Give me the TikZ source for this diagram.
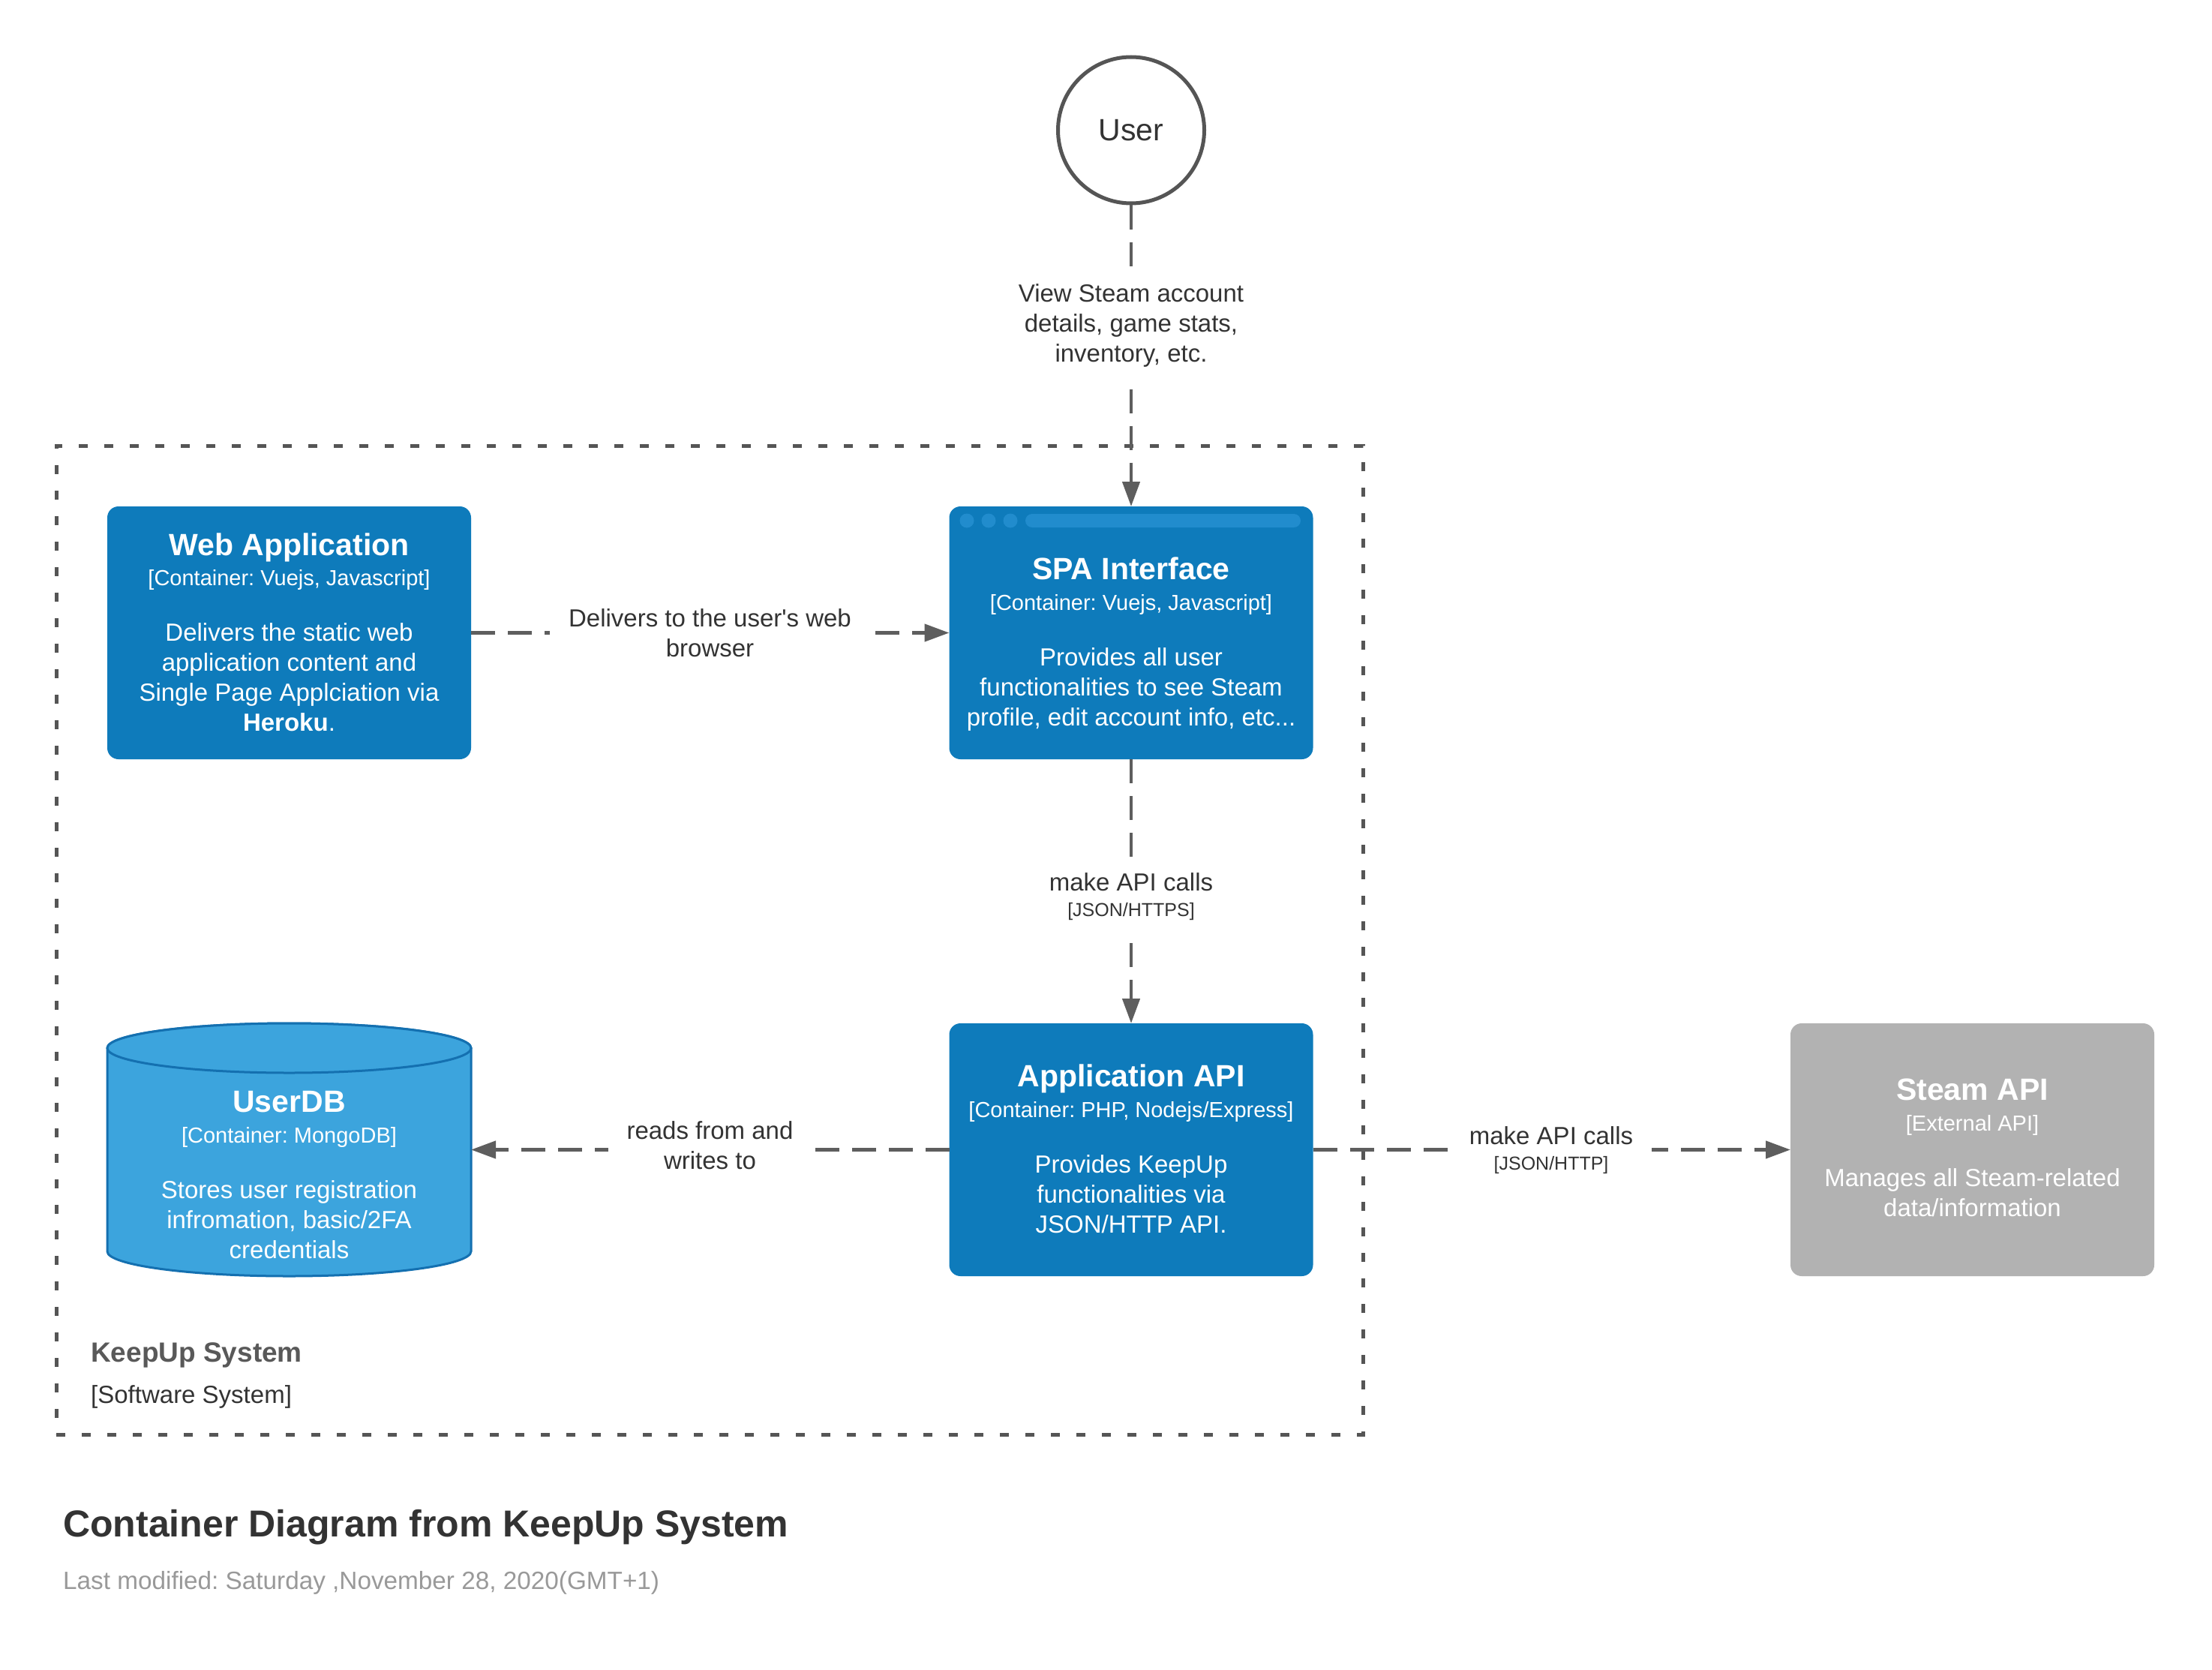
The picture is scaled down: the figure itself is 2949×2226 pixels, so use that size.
\documentclass[tikz,border=0pt]{standalone}
\usepackage{fontspec}
\setmainfont{Liberation Sans}
\usetikzlibrary{arrows.meta}
\frenchspacing
\definecolor{cblue}{RGB}{14,123,187}
\definecolor{hblue}{RGB}{33,140,205}
\definecolor{dbfill}{RGB}{60,164,221}
\definecolor{dbline}{RGB}{20,112,176}
\definecolor{extgray}{RGB}{178,178,178}
\definecolor{lineg}{RGB}{94,94,94}
\definecolor{bordg}{RGB}{85,85,85}
\definecolor{txtdark}{RGB}{51,51,51}
\definecolor{txtgray}{RGB}{153,153,153}
\definecolor{sysgray}{RGB}{89,89,89}
\begin{document}
\frenchspacing
\begin{tikzpicture}[x=1pt,y=-1pt,
  box/.style={rectangle, rounded corners=15pt, minimum width=485pt, minimum height=337pt, inner sep=0pt, outer sep=0pt},
  container/.style={box, fill=cblue},
  external/.style={box, fill=extgray},
  ghost/.style={rectangle, minimum width=485pt, minimum height=337pt, inner sep=0pt, outer sep=0pt},
  ttl/.style={anchor=base, inner sep=0pt, text=white, font=\bfseries\fontsize{41}{49}\selectfont},
  tech/.style={anchor=base, inner sep=0pt, text=white, font=\fontsize{29}{35}\selectfont},
  desc/.style={anchor=north, inner sep=0pt, text=white, align=center, font=\fontsize{33}{40}\selectfont},
  conn/.style={draw=lineg, line width=4.5pt, dash pattern=on 32pt off 17pt, -{Triangle[length=33pt,width=23pt]}},
  elabel/.style={anchor=north, fill=white, inner xsep=25pt, inner ysep=14pt, text=txtdark, align=center, font=\fontsize{33}{40}\selectfont},
  plain/.style={anchor=base west, inner sep=0pt},
]
% canvas
\fill[white] (0,0) rectangle (2949,2226);
\useasboundingbox (0,0) rectangle (2949,2226);

% system boundary
\node[draw=bordg, line width=5pt, dash pattern=on 12pt off 22pt, minimum width=1742pt, minimum height=1318pt, inner sep=0pt, outer sep=0pt] (sys) at (946,1253) {};

% user
\node[circle, draw=bordg, line width=5pt, minimum size=195pt, inner sep=0pt, font=\fontsize{41}{49}\selectfont, text=txtdark] (user) at (1508,173.5) {User};

% boxes
\node[container] (web) at (385.5,843.5) {};
\node[container] (spa) at (1508,843.5) {};
\node[container] (api) at (1508,1532.5) {};
\node[external] (steam) at (2629.5,1532.5) {};
\node[ghost] (db) at (385.5,1532.5) {};

% SPA browser header
\fill[hblue] (1289,694) circle[radius=9.5pt];
\fill[hblue] (1318,694) circle[radius=9.5pt];
\fill[hblue] (1347,694) circle[radius=9.5pt];
\fill[hblue, rounded corners=9pt] (1367,685) rectangle (1734,703);

% database cylinder
\path[fill=dbfill, draw=dbline, line width=3pt] (143,1397) -- (143,1668)
  arc[start angle=180, end angle=360, x radius=242.5pt, y radius=33pt]
  -- (628,1397)
  arc[start angle=0, end angle=180, x radius=242.5pt, y radius=33pt] -- cycle;
\draw[fill=dbfill, draw=dbline, line width=3pt] (385.5,1397) ellipse[x radius=242.5pt, y radius=33pt];

% box texts
\node[ttl] (webT) at (385.5,740) {Web Application};
\node[tech] (webK) at (385.5,780.4) {[Container: Vuejs, Javascript]};
\node[desc] (webD) at (385.5,826) {\strut Delivers the static web\\\strut application content and\\\strut Single Page Applciation via\\\strut\textbf{Heroku}.};

\node[ttl] (spaT) at (1508,772.7) {SPA Interface};
\node[tech] (spaK) at (1508,813.4) {[Container: Vuejs, Javascript]};
\node[desc] (spaD) at (1508,858.8) {\strut Provides all user\\\strut functionalities to see Steam\\\strut profile, edit account info, etc...};

\node[ttl] (apiT) at (1508,1448.7) {Application API};
\node[tech] (apiK) at (1508,1489.4) {[Container: PHP, Nodejs/Express]};
\node[desc] (apiD) at (1508,1534.8) {\strut Provides KeepUp\\\strut functionalities via\\\strut JSON/HTTP API.};

\node[ttl] (dbT) at (385.5,1482.7) {UserDB};
\node[tech] (dbK) at (385.5,1523.4) {[Container: MongoDB]};
\node[desc] (dbD) at (385.5,1568.8) {\strut Stores user registration\\\strut infromation, basic/2FA\\\strut credentials};

\node[ttl] (steamT) at (2629.5,1466.7) {Steam API};
\node[tech] (steamK) at (2629.5,1507.4) {[External API]};
\node[desc] (steamD) at (2629.5,1552.8) {\strut Manages all Steam-related\\\strut data/information};

% connectors
\draw[conn] (user) -- (spa);
\draw[conn] (web) -- (spa);
\draw[conn] (spa) -- (api);
\draw[conn] (api) -- (db);
\draw[conn] (api) -- (steam);

% connector labels
\node[elabel] (l1) at (1508,359.8) {\strut View Steam account\\\strut details, game stats,\\\strut inventory, etc.};
\node[elabel] (l2) at (946.5,792.8) {\strut Delivers to the user\textquotesingle s web\\\strut browser};
\node[elabel] (l3) at (946.5,1476.3) {\strut reads from and\\\strut writes to};
\node[elabel] (l4) at (1508,1144.8) {\strut make API calls\\[-6pt]\fontsize{25}{30}\selectfont [JSON/HTTPS]};
\node[elabel] (l5) at (2068,1482.8) {\strut make API calls\\[-6pt]\fontsize{25}{30}\selectfont [JSON/HTTP]};

% system labels
\node[plain, text=sysgray, font=\bfseries\fontsize{37}{44}\selectfont] (sysname) at (121,1815) {KeepUp System};
\node[plain, text=txtdark, font=\fontsize{33}{40}\selectfont] (systype) at (121,1870) {[Software System]};

% title
\node[plain, text=txtdark, font=\bfseries\fontsize{50}{60}\selectfont] (title) at (84,2048) {Container Diagram from KeepUp System};
\node[plain, text=txtgray, font=\fontsize{33.3}{40}\selectfont] (modified) at (84,2118) {Last modified: Saturday ,November 28, 2020(GMT+1)};
\end{tikzpicture}
\end{document}
